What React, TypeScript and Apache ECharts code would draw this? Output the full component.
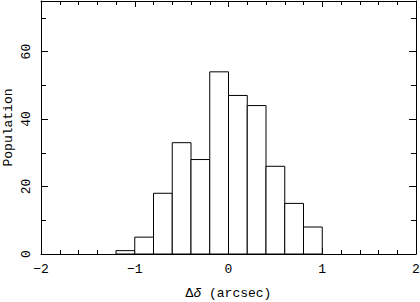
import React, { useEffect, useRef } from "react";
import * as echarts from "echarts";

const binStarts = [-1.2, -1.0, -0.8, -0.6, -0.4, -0.2, 0.0, 0.2, 0.4, 0.6, 0.8];
const binWidth = 0.2;
const counts = [1, 5, 18, 33, 28, 54, 47, 44, 26, 15, 8];
const xRange = [-2, 2];
const yRange = [0, 75];

const FONT = "Liberation Mono";
const FS = 13;
const black = "#000";

const fmt = (v: number) => (v < 0 ? "\u2212" + Math.abs(v) : String(v));

export default function App() {
  const ref = useRef<HTMLDivElement>(null);
  useEffect(() => {
    if (!ref.current) return;
    const chart = echarts.init(ref.current, undefined, { renderer: "svg" });
    const line = { color: black, width: 1 };
    const xCommon = {
      type: "value" as const,
      min: xRange[0],
      max: xRange[1],
      interval: 1,
      axisLine: { show: true, onZero: false, lineStyle: line },
      axisTick: { show: true, inside: true, length: 6, lineStyle: line },
      minorTick: { show: true, splitNumber: 5, length: 4, lineStyle: line },
      splitLine: { show: false },
      minorSplitLine: { show: false },
    };
    const yCommon = {
      type: "value" as const,
      min: yRange[0],
      max: yRange[1],
      interval: 20,
      axisLine: { show: true, onZero: false, lineStyle: line },
      axisTick: { show: true, inside: true, length: 7, lineStyle: line },
      minorTick: { show: true, splitNumber: 2, length: 5, lineStyle: line },
      splitLine: { show: false },
      minorSplitLine: { show: false },
    };
    chart.setOption({
      animation: false,
      backgroundColor: "#fff",
      grid: {
        left: 41,
        right: 4,
        top: 1,
        bottom: 48,
        show: false,
        containLabel: false,
        outerBoundsMode: "none",
      },
      xAxis: [
        {
          ...xCommon,
          position: "bottom",
          axisLabel: {
            show: true,
            formatter: fmt,
            color: black,
            fontFamily: FONT,
            fontSize: FS,
            margin: 9,
          },
          name: "\u0394{i|\u03b4} (arcsec)",
          nameLocation: "middle",
          nameGap: 33,
          nameMoveOverlap: false,
          nameTextStyle: {
            color: black,
            fontFamily: FONT,
            fontSize: FS,
            rich: {
              i: { fontFamily: FONT, fontSize: FS, fontStyle: "italic", color: black },
            },
          },
        },
        { ...xCommon, position: "top", axisLabel: { show: false } },
      ],
      yAxis: [
        {
          ...yCommon,
          position: "left",
          axisLabel: {
            show: true,
            rotate: 90,
            showMaxLabel: false,
            color: black,
            fontFamily: FONT,
            fontSize: FS,
            margin: 8,
          },
          name: "Population",
          nameLocation: "middle",
          nameGap: 26,
          nameMoveOverlap: false,
          nameRotate: 90,
          nameTextStyle: { color: black, fontFamily: FONT, fontSize: FS },
        },
        { ...yCommon, position: "right", axisLabel: { show: false } },
      ],
      series: [
        {
          type: "custom",
          xAxisIndex: 0,
          yAxisIndex: 0,
          data: binStarts.map((s, i) => [s, s + binWidth, counts[i]]),
          encode: { x: [0, 1], y: 2 },
          renderItem: (params: any, api: any) => {
            const p0 = api.coord([api.value(0), api.value(2)]);
            const p1 = api.coord([api.value(1), 0]);
            return {
              type: "rect",
              shape: { x: p0[0], y: p0[1], width: p1[0] - p0[0], height: p1[1] - p0[1] },
              style: { fill: "#fff", stroke: black, lineWidth: 1 },
            };
          },
        },
      ],
    });
    return () => chart.dispose();
  }, []);
  return (
    <div
      ref={ref}
      style={{ position: "fixed", left: 0, top: 0, width: 420, height: 302 }}
    />
  );
}
